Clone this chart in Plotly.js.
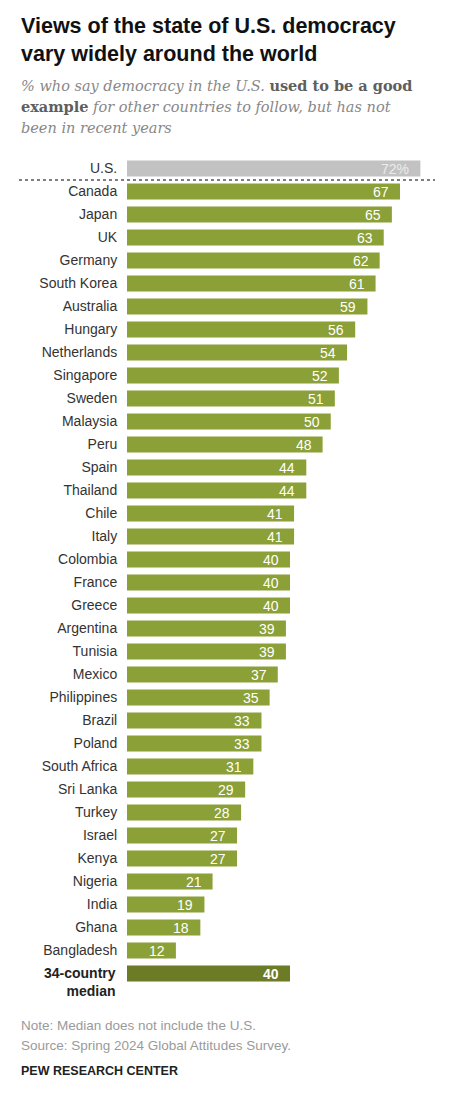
<!DOCTYPE html>
<html><head><meta charset="utf-8">
<script src="https://cdn.plot.ly/plotly-3.0.1.min.js"></script>
<style>html,body{margin:0;padding:0;background:#fff;}</style>
</head><body><div id="chart" style="width:459px;height:1093px;"></div>
<script>
// ---- data ----
const usLabel = ["U.S."];
const usValue = [72];
const countries = ["Canada","Japan","UK","Germany","South Korea","Australia","Hungary","Netherlands","Singapore","Sweden","Malaysia","Peru","Spain","Thailand","Chile","Italy","Colombia","France","Greece","Argentina","Tunisia","Mexico","Philippines","Brazil","Poland","South Africa","Sri Lanka","Turkey","Israel","Kenya","Nigeria","India","Ghana","Bangladesh"];
const countryValues = [67,65,63,62,61,59,56,54,52,51,50,48,44,44,41,41,40,40,40,39,39,37,35,33,33,31,29,28,27,27,21,19,18,12];
const medianLabel = ["34-country median"];
const medianValue = [40];

const allCats = usLabel.concat(countries, medianLabel);
const tickText = usLabel.concat(countries, [""]);

// pixel helpers for layout positioning
const W = 459, H = 1093, ML = 127, MR = 6, MT = 157, MB = 108;
const PW = W - ML - MR, PH = H - MT - MB;
const px = x => (x - ML) / PW;
const py = y => (H - MB - y) / PH;

const labelFont = "Liberation Sans, Arial, sans-serif";

const traces = [
  {type:'bar', orientation:'h', y:usLabel, x:usValue, marker:{color:'#c2c2c2'}, hoverinfo:'skip'},
  {type:'bar', orientation:'h', y:countries, x:countryValues, marker:{color:'#8ca038'}, hoverinfo:'skip'},
  {type:'bar', orientation:'h', y:medianLabel, x:medianValue, marker:{color:'#6b7b26'}, hoverinfo:'skip'}
];

const annotations = [];
// value labels
usLabel.forEach((c,i)=>annotations.push({x:usValue[i], y:c, xref:'x', yref:'y', text:usValue[i]+'%', showarrow:false, xanchor:'right', xshift:-9, font:{family:labelFont, size:14, color:'#ececec'}}));
countries.forEach((c,i)=>annotations.push({x:countryValues[i], y:c, xref:'x', yref:'y', text:String(countryValues[i]), showarrow:false, xanchor:'right', xshift:-9, font:{family:labelFont, size:14, color:'#ffffff'}}));
medianLabel.forEach((c,i)=>annotations.push({x:medianValue[i], y:c, xref:'x', yref:'y', text:'<b>'+medianValue[i]+'</b>', showarrow:false, xanchor:'right', xshift:-9, font:{family:labelFont, size:14, color:'#ffffff'}}));
// median label
annotations.push({x:px(118), y:medianLabel[0], xref:'paper', yref:'y', text:'<b>34-country<br>median</b>', align:'right', showarrow:false, xanchor:'right', yanchor:'top', yshift:11, font:{family:labelFont, size:14, color:'#222'}});

// title
const tfont = {family:labelFont, size:21.5, color:'#111'};
annotations.push({x:px(19), y:py(26), xref:'paper', yref:'paper', xanchor:'left', yanchor:'middle', showarrow:false, text:'<b>Views of the state of U.S. democracy</b>', font:tfont});
annotations.push({x:px(19), y:py(54), xref:'paper', yref:'paper', xanchor:'left', yanchor:'middle', showarrow:false, text:'<b>vary widely around the world</b>', font:tfont});
// subtitle
const sfont = {family:"DejaVu Serif, Georgia, serif", size:14.5, color:'#888'};
const subLines = [
  '<i>% who say democracy in the U.S. </i><b><span style="color:#5e5e5e">used to be a good</span></b>',
  '<b><span style="color:#5e5e5e">example</span></b><i> for other countries to follow, but has not</i>',
  '<i>been in recent years</i>'
];
const subY = [85, 107, 128];
subLines.forEach((t,i)=>annotations.push({x:px(19), y:py(subY[i]), xref:'paper', yref:'paper', xanchor:'left', yanchor:'middle', showarrow:false, text:t, font:sfont}));
// notes
const nfont = {family:labelFont, size:13.5, color:'#9a9a9a'};
annotations.push({x:px(19), y:py(1025), xref:'paper', yref:'paper', xanchor:'left', yanchor:'middle', showarrow:false, text:'Note: Median does not include the U.S.', font:nfont});
annotations.push({x:px(19), y:py(1045), xref:'paper', yref:'paper', xanchor:'left', yanchor:'middle', showarrow:false, text:'Source: Spring 2024 Global Attitudes Survey.', font:nfont});
annotations.push({x:px(19), y:py(1071), xref:'paper', yref:'paper', xanchor:'left', yanchor:'middle', showarrow:false, text:'<b>PEW RESEARCH CENTER</b>', font:{family:labelFont, size:12.5, color:'#222'}});

const layout = {
  width:W, height:H,
  margin:{l:ML, r:MR, t:MT, b:MB, pad:0},
  paper_bgcolor:'#fff', plot_bgcolor:'#fff',
  showlegend:false,
  barmode:'overlay',
  bargap:0.3,
  xaxis:{range:[0,80], visible:false, fixedrange:true},
  yaxis:{type:'category', categoryorder:'array', categoryarray:allCats, autorange:'reversed',
         tickmode:'array', tickvals:allCats, ticktext:tickText,
         ticks:'outside', ticklen:6, tickcolor:'rgba(0,0,0,0)', showline:false, showgrid:false, zeroline:false,
         tickfont:{family:labelFont, size:14, color:'#333'}, fixedrange:true},
  shapes:[{type:'line', xref:'paper', yref:'y', x0:px(19), x1:px(435), y0:0.5, y1:0.5, line:{color:'#555', width:1.5, dash:'dot'}}],
  annotations:annotations
};
Plotly.newPlot('chart', traces, layout, {displayModeBar:false, staticPlot:true});
</script></body></html>
